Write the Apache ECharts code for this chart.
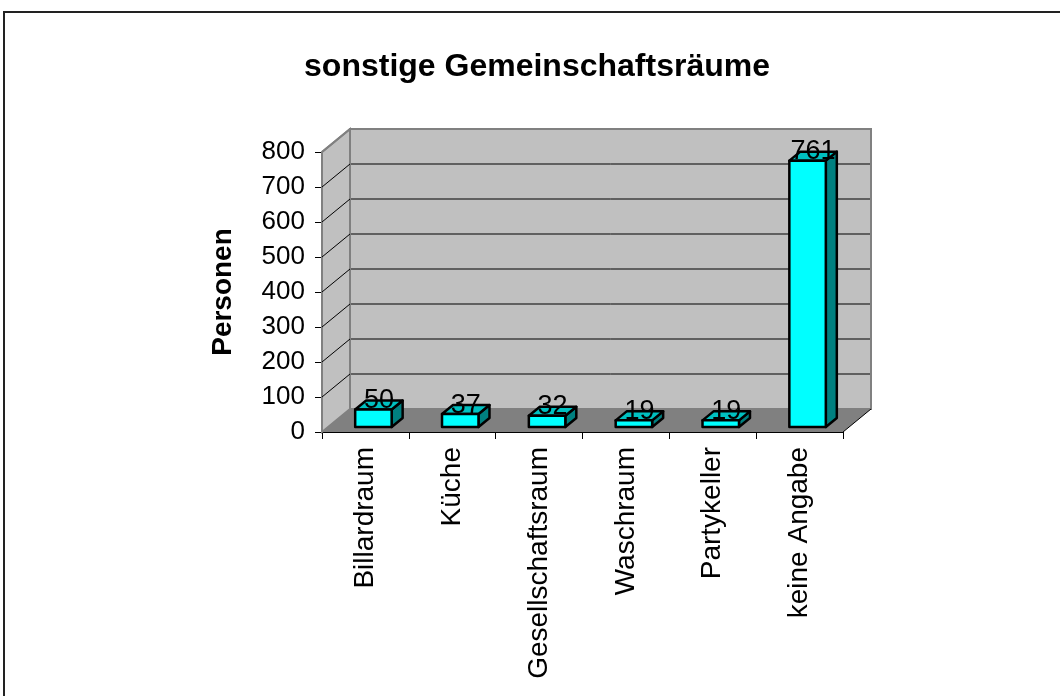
<!DOCTYPE html>
<html>
<head>
<meta charset="utf-8">
<script src="https://cdn.jsdelivr.net/npm/echarts@6/dist/echarts.min.js"></script>
<style>
  html, body { margin: 0; padding: 0; background: #fff; }
  #chart { width: 1060px; height: 696px; }
</style>
</head>
<body>
<div id="chart"></div>
<script>
// Rooms and number of persons
const categories = ['Billardraum', 'Küche', 'Gesellschaftsraum', 'Waschraum', 'Partykeller', 'keine Angabe'];
const persons = [50, 37, 32, 19, 19, 761];
const yTicks = [0, 100, 200, 300, 400, 500, 600, 700, 800];

const FONT = '"Liberation Sans", Arial, sans-serif';

// pseudo-3D depth of the plot box (walls) and of the bars
const WALL_DX = 28, WALL_DY = -23;
const BAR_SHIFT_X = 8, BAR_SHIFT_Y = -5;
const BAR_DX = 11, BAR_DY = -9;

const chart = echarts.init(document.getElementById('chart'));

function renderWalls(params, api) {
  const cs = params.coordSys;
  const x0 = cs.x, x1 = cs.x + cs.width;
  const yTop = cs.y, yBot = cs.y + cs.height;
  const children = [];
  // back wall
  children.push({
    type: 'rect',
    shape: { x: x0 + WALL_DX, y: yTop + WALL_DY, width: cs.width, height: cs.height },
    style: { fill: '#C0C0C0', stroke: '#808080', lineWidth: 2 }
  });
  // left side wall
  children.push({
    type: 'polygon',
    shape: { points: [[x0, yTop], [x0 + WALL_DX, yTop + WALL_DY], [x0 + WALL_DX, yBot + WALL_DY], [x0, yBot]] },
    style: { fill: '#C0C0C0', stroke: '#808080', lineWidth: 2 }
  });
  // floor
  children.push({
    type: 'polygon',
    shape: { points: [[x0, yBot], [x1, yBot], [x1 + WALL_DX, yBot + WALL_DY], [x0 + WALL_DX, yBot + WALL_DY]] },
    style: { fill: '#808080', stroke: null }
  });
  children.push({
    type: 'line',
    shape: { x1: x1, y1: yBot, x2: x1 + WALL_DX, y2: yBot + WALL_DY },
    style: { stroke: '#000', lineWidth: 1 }
  });
  // gridlines on the side and back walls
  const last = yTicks[yTicks.length - 1];
  yTicks.forEach(function (t) {
    const y = api.coord([0, t])[1];
    if (t > 0) {
      children.push({
        type: 'line',
        shape: { x1: x0, y1: y, x2: x0 + WALL_DX, y2: y + WALL_DY },
        style: { stroke: t === last ? '#808080' : '#000', lineWidth: t === last ? 2 : 1 }
      });
    }
    if (t > 0 && t < last) {
      children.push({
        type: 'line',
        shape: { x1: x0 + WALL_DX + 1, y1: y + WALL_DY, x2: x1 + WALL_DX - 1, y2: y + WALL_DY },
        style: { stroke: '#000', lineWidth: 1 }
      });
    }
  });
  return { type: 'group', children: children };
}

function renderBar(params, api) {
  const idx = api.value(0);
  const val = api.value(1);
  const base = api.coord([idx, 0]);
  const top = api.coord([idx, val]);
  const w = api.size([1, 0])[0] * 0.42;
  const cx = base[0] + BAR_SHIFT_X;
  const xl = cx - w / 2, xr = cx + w / 2;
  const yb = base[1] + BAR_SHIFT_Y;
  const yt = top[1] + BAR_SHIFT_Y;
  const outline = { stroke: '#000', lineWidth: 2.5, lineJoin: 'round' };
  return {
    type: 'group',
    children: [
      {
        type: 'polygon',
        shape: { points: [[xr, yt], [xr + BAR_DX, yt + BAR_DY], [xr + BAR_DX, yb + BAR_DY], [xr, yb]] },
        style: Object.assign({ fill: '#008080' }, outline)
      },
      {
        type: 'polygon',
        shape: { points: [[xl, yt], [xr, yt], [xr + BAR_DX, yt + BAR_DY], [xl + BAR_DX, yt + BAR_DY]] },
        style: Object.assign({ fill: '#00C0C0' }, outline)
      },
      {
        type: 'rect',
        shape: { x: xl, y: yt, width: w, height: yb - yt },
        style: Object.assign({ fill: '#00FFFF' }, outline)
      },
      {
        type: 'text',
        z2: 10,
        style: {
          x: cx + BAR_DX / 2,
          y: yt - 9,
          text: String(val),
          fill: '#000',
          font: '27px ' + FONT,
          textAlign: 'center',
          textVerticalAlign: 'middle'
        }
      }
    ]
  };
}

chart.setOption({
  animation: false,
  backgroundColor: '#fff',
  grid: { left: 322, top: 152, width: 521, height: 280, containLabel: false },
  xAxis: {
    type: 'category',
    data: categories,
    axisLine: { lineStyle: { color: '#000', width: 1 } },
    axisTick: { show: true, length: 7, lineStyle: { color: '#000' } },
    axisLabel: { interval: 0, rotate: 90, margin: 15, color: '#000', fontSize: 28, fontFamily: FONT },
    splitLine: { show: false }
  },
  yAxis: {
    type: 'value',
    min: 0, max: 800, interval: 100,
    axisLine: { show: true, lineStyle: { color: '#000', width: 1 } },
    axisTick: { show: true, length: 7, lineStyle: { color: '#000' } },
    axisLabel: { margin: 17, color: '#000', fontSize: 26, fontFamily: FONT },
    splitLine: { show: false }
  },
  graphic: [
    {
      type: 'rect', z: -1,
      shape: { x: 4, y: 12, width: 1200, height: 900 },
      style: { fill: null, stroke: '#222', lineWidth: 2 }
    },
    {
      type: 'text',
      x: 537, y: 67,
      style: {
        text: 'sonstige Gemeinschaftsräume',
        font: 'bold 32px ' + FONT,
        fill: '#000',
        textAlign: 'center',
        textVerticalAlign: 'middle'
      }
    },
    {
      type: 'text',
      x: 223, y: 292,
      rotation: Math.PI / 2,
      style: {
        text: 'Personen',
        font: 'bold 28px ' + FONT,
        fill: '#000',
        textAlign: 'center',
        textVerticalAlign: 'middle'
      }
    }
  ],
  series: [
    {
      type: 'custom',
      z: 1,
      clip: false,
      silent: true,
      data: [[0, 0]],
      renderItem: renderWalls
    },
    {
      type: 'custom',
      z: 3,
      clip: false,
      data: persons.map(function (v, i) { return [i, v]; }),
      encode: { x: 0, y: 1 },
      renderItem: renderBar
    }
  ]
});
</script>
</body>
</html>
